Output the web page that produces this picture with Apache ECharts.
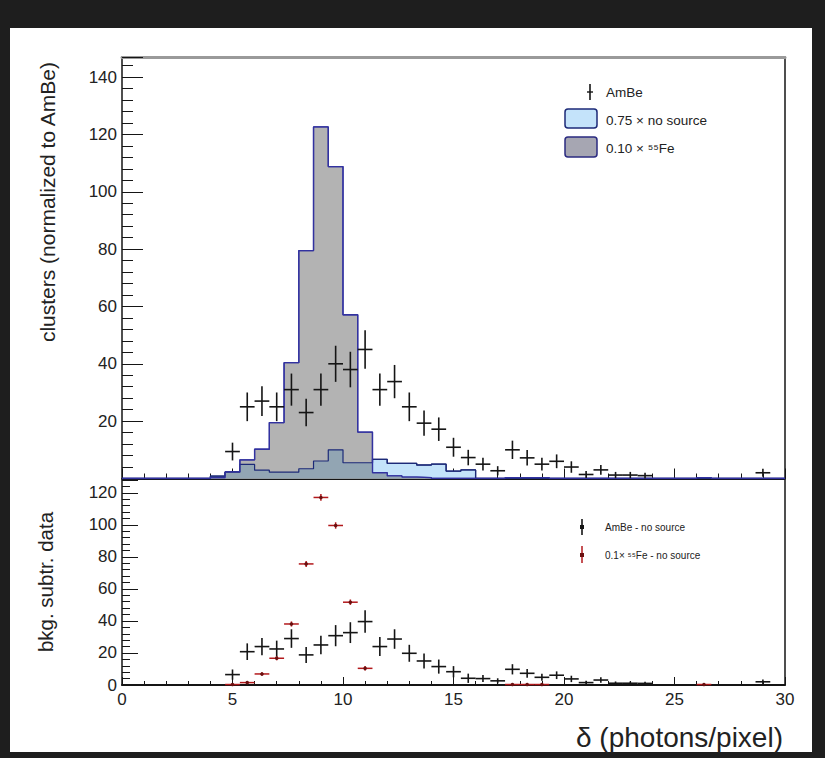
<!DOCTYPE html>
<html>
<head>
<meta charset="utf-8">
<script src="https://cdn.jsdelivr.net/npm/echarts@6/dist/echarts.min.js"></script>
<style>
html,body{margin:0;padding:0;background:#1e1e1e;}
#chart{width:825px;height:758px;}
</style>
</head>
<body>
<div id="chart"></div>
<script>
// ---------------- DATA ----------------
const binWidth = 2 / 3;
const binCenters = [0.333, 1.0, 1.667, 2.333, 3.0, 3.667, 4.333, 5.0, 5.667, 6.333, 7.0, 7.667, 8.333, 9.0, 9.667,
  10.333, 11.0, 11.667, 12.333, 13.0, 13.667, 14.333, 15.0, 15.667, 16.333, 17.0, 17.667, 18.333, 19.0, 19.667,
  20.333, 21.0, 21.667, 22.333, 23.0, 23.667, 24.333, 25.0, 25.667, 26.333, 27.0, 27.667, 28.333, 29.0, 29.667];

// upper panel: AmBe data points
const amBe = [null, null, null, null, null, null, null, 9.4, 25, 27, 25, 31, 23, 31, 40,
  38, 45, 31, 33.8, 25, 19.3, 17.2, 10.9, 7.3, 5, 2.7, 10, 7.2, 5, 6,
  4, 1.4, 3, 1.2, 1.2, 1.0, null, null, null, null, null, null, null, 2, null];
const amBeErr = [null, null, null, null, null, null, null, 3.1, 5, 5.2, 5, 5.6, 4.8, 5.6, 6.3,
  6.2, 6.7, 5.6, 5.8, 5, 4.4, 4.1, 3.3, 2.7, 2.2, 1.6, 3.2, 2.7, 2.2, 2.4,
  2, 1.2, 1.7, 1.1, 1.1, 1.0, null, null, null, null, null, null, null, 1.4, null];

// upper panel: 0.75 x no source histogram
const noSource = [0, 0, 0, 0, 0, 0, 0.8, 2.2, 4.9, 2.9, 2.2, 2.2, 3.4, 6.1, 10,
  5.5, 5.5, 6.7, 5.3, 5.3, 4.7, 5, 2.6, 3, 0, 0, 0, 0, 0, 0,
  0, 0, 0, 0, 0, 0, 0, 0, 0, 0, 0, 0, 0, 0, 0];

// upper panel: 0.10 x 55Fe histogram
const fe55 = [0, 0, 0, 0, 0, 0, 0.3, 2.3, 6.5, 10.2, 19.5, 40.4, 79.5, 122.6, 108.8,
  57.1, 16.2, 2, 0.9, 0.5, 0.3, 0, 0, 0, 0, 0, 0.3, 0.3, 0.3, 0,
  0, 0, 0, 0, 0, 0, 0, 0, 0, 0.3, 0, 0, 0, 0, 0];

// lower panel: AmBe - no source
const amBeSub = [null, null, null, null, null, null, null, 6.5, 20.8, 24, 22.5, 29, 18.8, 25, 30.8,
  32.7, 39.6, 24, 28.7, 19.8, 15, 11.5, 8.3, 4.2, 4, 2.6, 9.8, 7.3, 4.8, 6.1,
  3.8, 1.5, 3.1, 1.1, 1.1, 1.0, null, null, null, null, null, null, null, 2, null];
const amBeSubErr = [null, null, null, null, null, null, null, 3.2, 5.2, 5.4, 5.2, 5.8, 5, 5.8, 6.6,
  6.5, 7, 5.9, 6.1, 5.3, 4.7, 4.4, 3.5, 2.9, 2.2, 1.6, 3.2, 2.7, 2.2, 2.4,
  2, 1.2, 1.7, 1.1, 1.1, 1.0, null, null, null, null, null, null, null, 1.4, null];

// lower panel: 0.1 x 55Fe - no source
const feSub = [null, null, null, null, null, null, null, 0.3, 1.5, 6.9, 16.7, 38.1, 75.6, 117.1, 99.6,
  51.7, 10.4, null, null, null, null, null, null, null, null, null, 0.3, 0.3, 0.3, null,
  null, null, null, null, null, null, null, null, null, 0.3, null, null, null, null, null];
const feSubErr = [null, null, null, null, null, null, null, 0.6, 0.9, 1.1, 1.3, 1.6, 1.9, 2.1, 2.0,
  1.7, 1.4, null, null, null, null, null, null, null, null, null, 0.5, 0.5, 0.5, null,
  null, null, null, null, null, null, null, null, null, 0.5, null, null, null, null, null];

const xTicks = {min: 0, max: 30, interval: 5};
const yTopRange = {min: 0, max: 147, interval: 20};
const yBotRange = {min: 0, max: 128, interval: 20};

// ---------------- helpers ----------------
function histLine(values) {
  const pts = [[xTicks.min, 0]];
  values.forEach((v, i) => {
    pts.push([binCenters[i] - binWidth / 2, v], [binCenters[i] + binWidth / 2, v]);
  });
  pts.push([xTicks.max, 0]);
  return pts;
}
function pointData(values, errs) {
  const out = [];
  values.forEach((v, i) => { if (v !== null) out.push([binCenters[i], v, errs[i]]); });
  return out;
}
const overlap = noSource.map((v, i) => Math.min(v, fe55[i]));

function crossRender(color, lw, dot) {
  return function (params, api) {
    const x = api.value(0), y = api.value(1), e = api.value(2);
    const c = api.coord([x, y]);
    const l = api.coord([x - binWidth / 2, y]);
    const r = api.coord([x + binWidth / 2, y]);
    const t = api.coord([x, y + e]);
    const b = api.coord([x, Math.max(y - e, 0)]);
    const children = [
      {type: 'line', shape: {x1: l[0], y1: c[1], x2: r[0], y2: c[1]}, style: {stroke: color, lineWidth: lw}},
      {type: 'line', shape: {x1: c[0], y1: t[1], x2: c[0], y2: b[1]}, style: {stroke: color, lineWidth: lw}}
    ];
    if (dot) children.push({type: 'circle', shape: {cx: c[0], cy: c[1], r: dot}, style: {fill: '#6a1010'}});
    return {type: 'group', children: children};
  };
}

const FONT = 'Liberation Sans, Arial, Helvetica, sans-serif';
const black = '#151515';
const tickStyle = {color: black, width: 1};

function baseX(grid, opts) {
  return Object.assign({
    gridIndex: grid, type: 'value', min: xTicks.min, max: xTicks.max, interval: xTicks.interval,
    splitLine: {show: false}, minorSplitLine: {show: false}
  }, opts);
}
function baseY(grid, range, opts) {
  return Object.assign({
    gridIndex: grid, type: 'value', min: range.min, max: range.max, interval: range.interval,
    splitLine: {show: false}, minorSplitLine: {show: false}
  }, opts);
}

const chart = echarts.init(document.getElementById('chart'), null, {renderer: 'svg'});

const option = {
  animation: false,
  backgroundColor: '#1e1e1e',
  textStyle: {fontFamily: FONT},
  grid: [
    {left: 122, top: 57, width: 663, height: 421.5},
    {left: 122, top: 480, width: 663, height: 205}
  ],
  xAxis: [
    baseX(0, {
      position: 'bottom',
      axisLine: {show: true, onZero: false, lineStyle: {color: black, width: 2}},
      axisTick: {show: true, inside: true, length: 10, lineStyle: tickStyle},
      minorTick: {show: true, splitNumber: 5, length: 5, lineStyle: tickStyle},
      axisLabel: {show: false}
    }),
    baseX(0, {
      position: 'top',
      axisLine: {show: true, onZero: false, lineStyle: {color: '#9a9a9a', width: 3}},
      axisTick: {show: false}, axisLabel: {show: false}
    }),
    baseX(1, {
      position: 'bottom',
      axisLine: {show: true, onZero: false, lineStyle: {color: black, width: 2}},
      axisTick: {show: true, inside: true, length: 8, lineStyle: tickStyle},
      minorTick: {show: true, splitNumber: 5, length: 4, lineStyle: tickStyle},
      axisLabel: {show: true, fontSize: 17, color: '#222', margin: 6, fontFamily: FONT}
    })
  ],
  yAxis: [
    baseY(0, yTopRange, {
      position: 'left',
      axisLine: {show: true, onZero: false, lineStyle: {color: black, width: 1.5}},
      axisTick: {show: true, inside: true, length: 21, lineStyle: tickStyle},
      minorTick: {show: true, splitNumber: 5, length: 11, lineStyle: tickStyle},
      axisLabel: {show: true, fontSize: 17, color: '#222', margin: 5, fontFamily: FONT,
        showMinLabel: false, showMaxLabel: false}
    }),
    baseY(0, yTopRange, {
      position: 'right',
      axisLine: {show: true, onZero: false, lineStyle: {color: black, width: 1.5}},
      axisTick: {show: false}, axisLabel: {show: false}
    }),
    baseY(1, yBotRange, {
      position: 'left',
      axisLine: {show: true, onZero: false, lineStyle: {color: black, width: 1.5}},
      axisTick: {show: true, inside: true, length: 16, lineStyle: tickStyle},
      minorTick: {show: true, splitNumber: 5, length: 8, lineStyle: tickStyle},
      axisLabel: {show: true, fontSize: 17, color: '#222', margin: 5, fontFamily: FONT,
        showMaxLabel: false}
    }),
    baseY(1, yBotRange, {
      position: 'right',
      axisLine: {show: true, onZero: false, lineStyle: {color: black, width: 1.5}},
      axisTick: {show: false}, axisLabel: {show: false}
    })
  ],
  series: [
    {
      name: '0.75 × no source', type: 'line', xAxisIndex: 0, yAxisIndex: 0, data: histLine(noSource),
      symbol: 'none', silent: true, z: 2,
      lineStyle: {color: '#1c2a78', width: 1.3},
      areaStyle: {color: '#c4e3fa', opacity: 1}
    },
    {
      name: '0.10 × 55Fe', type: 'line', xAxisIndex: 0, yAxisIndex: 0, data: histLine(fe55),
      symbol: 'none', silent: true, z: 3,
      lineStyle: {color: '#3232a0', width: 1.3},
      areaStyle: {color: '#b3b3b3', opacity: 1}
    },
    {
      name: 'overlap', type: 'line', xAxisIndex: 0, yAxisIndex: 0, data: histLine(overlap),
      symbol: 'none', silent: true, z: 4,
      lineStyle: {width: 0, opacity: 0},
      areaStyle: {color: '#92a5b3', opacity: 1}
    },
    {
      name: 'no source outline', type: 'line', xAxisIndex: 0, yAxisIndex: 0, data: histLine(noSource),
      symbol: 'none', silent: true, z: 5,
      lineStyle: {color: '#1c2a78', width: 1.2}
    },
    {
      name: 'Fe outline', type: 'line', xAxisIndex: 0, yAxisIndex: 0, data: histLine(fe55),
      symbol: 'none', silent: true, z: 6,
      lineStyle: {color: '#3232a0', width: 1.3}
    },
    {
      name: 'AmBe', type: 'custom', xAxisIndex: 0, yAxisIndex: 0, z: 8,
      data: pointData(amBe, amBeErr), encode: {x: 0, y: 1},
      renderItem: crossRender(black, 1.6, 0)
    },
    {
      name: 'AmBe - no source', type: 'custom', xAxisIndex: 2, yAxisIndex: 2, z: 8,
      data: pointData(amBeSub, amBeSubErr), encode: {x: 0, y: 1},
      renderItem: crossRender(black, 1.6, 0)
    },
    {
      name: '0.1× 55Fe - no source', type: 'custom', xAxisIndex: 2, yAxisIndex: 2, z: 9,
      data: pointData(feSub, feSubErr), encode: {x: 0, y: 1},
      renderItem: crossRender('#b3191c', 1.5, 1.8)
    }
  ],
  graphic: [
    {type: 'rect', z: -100, silent: true, shape: {x: 10, y: 28, width: 802, height: 724}, style: {fill: '#ffffff'}},
    // y titles
    {type: 'text', z: 50, x: 47, y: 62, rotation: Math.PI / 2,
      style: {text: 'clusters (normalized to AmBe)', fontSize: 21, fontFamily: FONT, fill: '#222', align: 'right', verticalAlign: 'middle'}},
    {type: 'text', z: 50, x: 45, y: 582, rotation: Math.PI / 2,
      style: {text: 'bkg. subtr. data', fontSize: 20.5, fontFamily: FONT, fill: '#222', align: 'center', verticalAlign: 'middle'}},
    // x title
    {type: 'text', z: 50, x: 783, y: 737,
      style: {text: 'δ (photons/pixel)', fontSize: 28, fontFamily: FONT, fill: '#222', align: 'right', verticalAlign: 'middle'}},
    // upper legend
    {type: 'line', z: 50, shape: {x1: 590, y1: 84, x2: 590, y2: 100}, style: {stroke: black, lineWidth: 1.6}},
    {type: 'line', z: 50, shape: {x1: 587, y1: 92, x2: 593, y2: 92}, style: {stroke: black, lineWidth: 1.4}},
    {type: 'text', z: 50, x: 606, y: 92, style: {text: 'AmBe', fontSize: 13.5, fontFamily: FONT, fill: '#222', verticalAlign: 'middle'}},
    {type: 'rect', z: 50, shape: {x: 565, y: 109, width: 32, height: 19, r: 3}, style: {fill: '#c4e3fa', stroke: '#1c2a78', lineWidth: 1.5}},
    {type: 'text', z: 50, x: 606, y: 120, style: {text: '0.75 × no source', fontSize: 13.5, fontFamily: FONT, fill: '#222', verticalAlign: 'middle'}},
    {type: 'rect', z: 50, shape: {x: 565, y: 137, width: 32, height: 20, r: 3}, style: {fill: '#a6a6b2', stroke: '#2a2a80', lineWidth: 1.5}},
    {type: 'text', z: 50, x: 606, y: 148, style: {text: '0.10 × ⁵⁵Fe', fontSize: 13.5, fontFamily: FONT, fill: '#222', verticalAlign: 'middle'}},
    // lower legend
    {type: 'line', z: 50, shape: {x1: 582, y1: 519, x2: 582, y2: 535}, style: {stroke: black, lineWidth: 1.6}},
    {type: 'rect', z: 50, shape: {x: 580, y: 525, width: 4, height: 4}, style: {fill: black}},
    {type: 'text', z: 50, x: 605, y: 527, style: {text: 'AmBe - no source', fontSize: 10, fontFamily: FONT, fill: '#222', verticalAlign: 'middle'}},
    {type: 'line', z: 50, shape: {x1: 582, y1: 546, x2: 582, y2: 563}, style: {stroke: '#b3191c', lineWidth: 1.5}},
    {type: 'rect', z: 50, shape: {x: 580, y: 553, width: 4, height: 4}, style: {fill: '#6a1010'}},
    {type: 'text', z: 50, x: 605, y: 555, style: {text: '0.1× ⁵⁵Fe - no source', fontSize: 10, fontFamily: FONT, fill: '#222', verticalAlign: 'middle'}}
  ]
};
chart.setOption(option);
</script>
</body>
</html>
